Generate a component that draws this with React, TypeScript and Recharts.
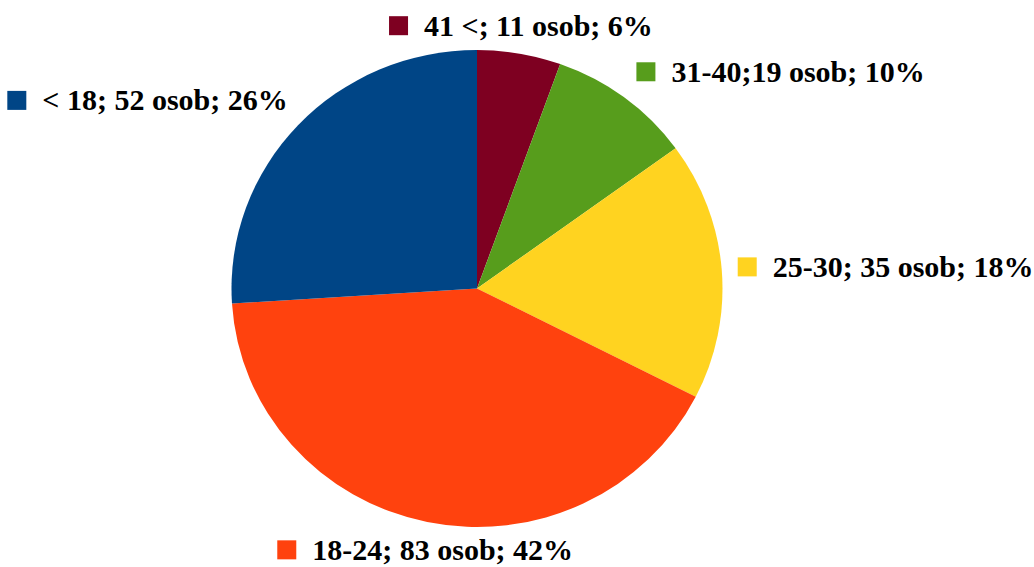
import React from "react";
import { PieChart, Pie, Cell, Sector } from "recharts";

const categories = ["41 <", "31-40", "25-30", "18-24", "< 18"];
const people = [11, 19, 35, 83, 52];
const sliceLabels = [
  "41 <; 11 osob; 6%",
  "31-40;19 osob; 10%",
  "25-30; 35 osob; 18%",
  "18-24; 83 osob; 42%",
  "< 18; 52 osob; 26%",
];
const COLORS = ["#7E0021", "#579D1C", "#FFD320", "#FF420E", "#004586"];

const FONT = "bold 30px 'Liberation Serif'";
const RADIAN = Math.PI / 180;
// the original pie is slightly squashed vertically
const SCALE_Y = 0.9715;

let ctx: CanvasRenderingContext2D | null = null;
function textWidth(text: string) {
  if (!ctx) ctx = document.createElement("canvas").getContext("2d");
  if (!ctx) return text.length * 14;
  ctx.font = FONT;
  return ctx.measureText(text).width;
}

const renderSlice = (props: any) => {
  const { cx, cy } = props;
  return (
    <g transform={`translate(${cx},${cy}) scale(1,${SCALE_Y}) translate(${-cx},${-cy})`}>
      <Sector {...props} stroke="none" />
    </g>
  );
};

const renderLabel = (props: any) => {
  const { cx, cy, midAngle, outerRadius, index } = props;
  const cos = Math.cos(midAngle * RADIAN);
  const sin = Math.sin(midAngle * RADIAN);
  const ax = cx + (outerRadius + 10) * cos;
  const ay = cy - (outerRadius * SCALE_Y + 10) * sin;
  const text = sliceLabels[index];
  const w = 19 + 16 + textWidth(text);
  let left: number;
  if (Math.abs(cos) < 0.3) left = ax - w / 2;
  else if (cos > 0) left = ax + 6;
  else left = ax - w - 3;
  const centerY = ay - 18 * Math.max(-1, Math.min(1, sin * 1.5));
  return (
    <g key={`lbl-${index}`}>
      <rect x={left} y={centerY - 9.5} width={19} height={19} fill={COLORS[index]} />
      <text
        x={left + 35}
        y={centerY + 10}
        fill="#000"
        fontFamily="'Liberation Serif'"
        fontWeight="bold"
        fontSize={30}
      >
        {text}
      </text>
    </g>
  );
};

export default function App() {
  const data = categories.map((name, i) => ({ name, value: people[i] }));
  return (
    <div style={{ position: "fixed", left: 0, top: 0, width: 1034, height: 567, background: "#fff" }}>
      <PieChart width={1034} height={567} margin={{ top: 0, right: 0, bottom: 0, left: 0 }}>
        <Pie
          data={data}
          dataKey="value"
          nameKey="name"
          cx={477}
          cy={288.5}
          outerRadius={245.5}
          startAngle={90}
          endAngle={-270}
          stroke="none"
          shape={renderSlice}
          label={renderLabel}
          labelLine={false}
          isAnimationActive={false}
        >
          {data.map((entry, i) => (
            <Cell key={entry.name} fill={COLORS[i]} />
          ))}
        </Pie>
      </PieChart>
    </div>
  );
}
